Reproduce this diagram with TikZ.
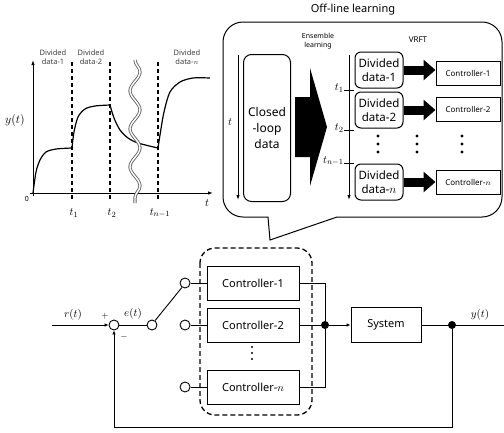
\documentclass[tikz,border=0pt]{standalone}
\usepackage{fontspec}
\setmainfont{Noto Sans}
\usetikzlibrary{positioning,arrows.meta,decorations.pathmorphing}

\begin{document}
\begin{tikzpicture}[
    x=1pt, y=-1pt,
    line width=0.9pt,
    node distance=7pt and 16pt,
    every node/.style={font=\fontsize{11}{13}\selectfont},
    blk/.style={draw, line width=1pt, inner sep=1pt},
    ctrl/.style={blk, minimum width=92pt, minimum height=34pt},
    sctrl/.style={blk, minimum width=64pt, minimum height=24pt, font=\fontsize{8}{10}\selectfont},
    ddata/.style={blk, rounded corners=6pt, minimum width=48pt, minimum height=36pt, align=center, font=\fontsize{11.5}{14}\selectfont},
    port/.style={draw, circle, minimum size=10pt, inner sep=0pt, fill=white},
    jdot/.style={circle, fill, minimum size=8pt, inner sep=0pt},
    sig/.style={-{Latex[length=4pt,width=3.5pt]}},
    taxis/.style={-{Latex[length=5pt,width=3.5pt]}},
    fat/.style={line width=9pt, -{Triangle[length=12pt,width=20pt]}},
    divline/.style={line width=1.2pt, dash pattern=on 4pt off 3pt},
    resp/.style={line width=1.2pt},
    seglbl/.style={font=\fontsize{7.5}{9}\selectfont, text=black!75, align=center}
]
    \useasboundingbox (0,0) rectangle (504,432);

    % Response plot
    \draw[taxis] (33,196) -- (33,60);
    \draw[taxis] (30,193) -- (213,193);
    \node[font=\fontsize{7}{8}\selectfont] at (27,199) {0};
    \node at (207,203) {$t$};
    \node[font=\fontsize{12}{14}\selectfont] at (15,120) {$y(t)$};
    \foreach \x/\lbl in {72/t_1, 110/t_2, 158/t_{n-1}} {
        \draw[divline] (\x,62) -- (\x,200);
        \node at (\x+2,213) {$\lbl$};
    }
    \node[seglbl] at (53,57) {Divided\\data-1};
    \node[seglbl] at (91,57) {Divided\\data-2};
    \node[seglbl] at (187,57) {Divided\\data-$n$};
    \draw[resp] plot[smooth] coordinates {(33,193) (36,172) (40,160) (46,152) (56,149) (72,148)};
    \draw[resp] plot[smooth] coordinates {(72,148) (74,132) (78,117) (85,109) (95,106) (110,105)};
    \draw[resp] plot[smooth] coordinates {(110,105) (114,118) (120,130) (128,138) (138,143) (158,148)};
    \draw[resp] plot[smooth] coordinates {(158,148) (160,135) (164,112) (170,92) (180,82) (193,78) (210,78)};
    \draw[black!60, line width=0.9pt, double=white, double distance=1.4pt,
        decorate, decoration={snake, amplitude=5pt, segment length=38pt}] (135,60) -- (135,203);

    % Off-line learning bubble
    \node at (353,10) {Off-line learning};
    \draw[line width=1pt] (268,217) [rounded corners=20pt] -- (223,217) -- (223,22)
        -- (502,22) -- (502,217) [sharp corners] -- (337,217) -- (270,240) -- cycle;
    \draw[taxis] (238,55) -- (238,200);
    \node at (230,122) {$t$};
    \node[blk, rounded corners=8pt, minimum width=47pt, minimum height=147pt, align=center,
        font=\fontsize{12}{16}\selectfont] (cld) at (267,128) {Closed\\-loop\\data};
    \fill (295,97) -- (310,97) -- (310,68) -- (327,127) -- (310,186) -- (310,157) -- (295,157) -- cycle;
    \node[font=\fontsize{7}{8.5}\selectfont, align=center] at (318,41) {Ensemble\\learning};
    \node[font=\fontsize{8}{10}\selectfont] at (418,40) {VRFT};

    % Divided data and controllers
    \draw[taxis] (349,55) -- (349,200);
    \foreach \y/\lbl in {90/t_1, 130/t_2, 163/t_{n-1}} {
        \draw (344,\y) -- (354,\y);
        \node[left, inner sep=1pt] at (345,\y-2) {$\lbl$};
    }
    \node[ddata] (dd1) at (379,70) {Divided\\data-1};
    \node[ddata] (dd2) at (379,110) {Divided\\data-2};
    \node[ddata] (ddn) at (379,182) {Divided\\data-$n$};
    \node[sctrl] (sc1) at (468,73.5) {Controller-1};
    \node[sctrl] (sc2) at (468,109.5) {Controller-2};
    \node[sctrl] (scn) at (468,182.5) {Controller-$n$};
    \draw[fat] (dd1.east) -- (dd1.east -| sc1.west);
    \draw[fat] (dd2.east) -- (dd2.east -| sc2.west);
    \draw[fat] (ddn.east) -- (ddn.east -| scn.west);
    \foreach \x in {378,417,462}
        \foreach \y in {136,144,152}
            \fill (\x,\y) circle (1.6pt);

    % Closed-loop system
    \coordinate (rin) at (52,325);
    \node[port] (sum) at (114,325) {};
    \node[port] (pv) at (152,325) {};
    \node[ctrl] (k1) at (253,283) {Controller-1};
    \node[ctrl, below=of k1] (k2) {Controller-2};
    \node[ctrl, below=27pt of k2] (kn) {Controller-$n$};
    \node[port, left=of k1] (sw1) {};
    \node[port, left=of k2] (sw2) {};
    \node[port, left=of kn] (swn) {};
    \foreach \y in {347,353,359}
        \fill (252,\y) circle (1.2pt);
    \draw[line width=1.3pt, dash pattern=on 5pt off 3pt, rounded corners=15pt] (200,248) rectangle (312,415);
    \node[jdot] (jm) at (325,325) {};
    \node[blk, minimum width=70pt, minimum height=35pt] (sys) at (386,325) {System};
    \node[jdot] (jo) at (452,325) {};
    \coordinate (yout) at (504,325);

    \node at (73,315) {$r(t)$};
    \node at (133,314) {$e(t)$};
    \node at (480,315) {$y(t)$};
    \node[font=\fontsize{9}{10}\selectfont] at (105,316) {$+$};
    \node[font=\fontsize{9}{10}\selectfont] at (124,337) {$-$};

    \draw[sig] (rin) -- (sum);
    \draw (sum) -- (pv);
    \draw (pv.55) -- (sw1.235);
    \draw (sw1) -- (k1);
    \draw (sw2) -- (k2);
    \draw (swn) -- (kn);
    \draw (k1.east) -| (jm);
    \draw (kn.east) -| (jm);
    \draw (k2) -- (jm);
    \draw[sig] (jm) -- (sys);
    \draw (sys) -- (yout);
    \draw[sig] (jo) -- (jo |- 0,427) -| (sum);
\end{tikzpicture}
\end{document}
